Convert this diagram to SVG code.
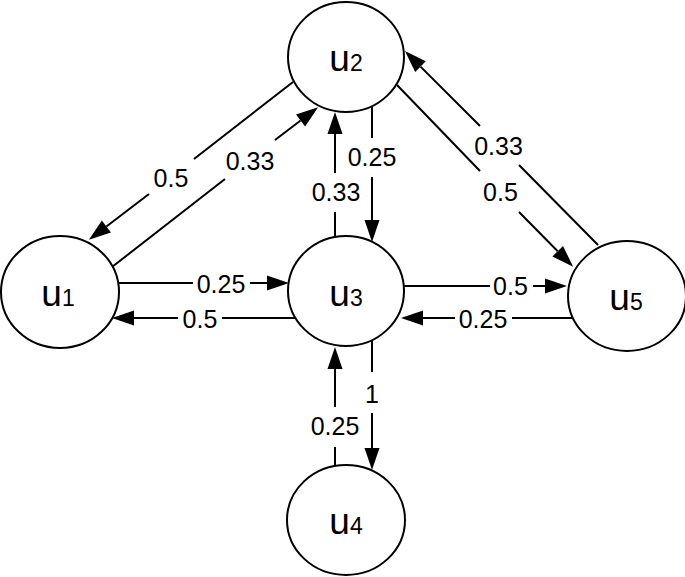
<svg xmlns="http://www.w3.org/2000/svg" width="685" height="577" viewBox="0 0 685 577">
<style>
.node{fill:#fff;stroke:#000;stroke-width:2}
.nl{font-family:"Liberation Sans",Arial,sans-serif;font-size:37px;text-anchor:middle;fill:#000}
.sub{font-size:23px}
.edge{fill:none;stroke:#000;stroke-width:2;marker-end:url(#ah)}
.el{font-family:"Liberation Sans",Arial,sans-serif;font-size:25px;text-anchor:middle;fill:#000}
</style>
<defs>
<marker id="ah" markerUnits="userSpaceOnUse" markerWidth="23" markerHeight="16" refX="0" refY="7.5" orient="auto" overflow="visible">
<path d="M0,0 L22,7.5 L0,15 Z" fill="#000"/>
</marker>
</defs>
<rect width="685" height="577" fill="#fff"/>
<g id="connectors">
<path class="edge" d="M293,82 L194,159 M149,194 L106.4,226.5"/>
<path class="edge" d="M112,267 L225,179 M275,140 L300.6,120.5"/>
<path class="edge" d="M335,239 L335,212 M335,173 L335,134"/>
<path class="edge" d="M372,104 L372,138 M372,177 L372,220"/>
<path class="edge" d="M598,245 L519,165 M480,126 L420.5,66.6"/>
<path class="edge" d="M397,85 L480,171 M519,212 L557.7,251.2"/>
<path class="edge" d="M118,283 L193,283 M250,283 L267,283"/>
<path class="edge" d="M296,318 L222,318 M178,318 L134,318"/>
<path class="edge" d="M404,286 L490,286 M533,286 L545,286"/>
<path class="edge" d="M572,318 L512,318 M455,318 L423,318"/>
<path class="edge" d="M335,466 L335,447 M335,407 L335,369"/>
<path class="edge" d="M372,341 L372,372 M372,413 L372,448"/>
<text class="el" x="171" y="186.5">0.5</text>
<text class="el" x="250" y="169.5">0.33</text>
<text class="el" x="336" y="201">0.33</text>
<text class="el" x="372" y="166">0.25</text>
<text class="el" x="498.5" y="155">0.33</text>
<text class="el" x="500.5" y="201">0.5</text>
<text class="el" x="221" y="293">0.25</text>
<text class="el" x="200" y="327.5">0.5</text>
<text class="el" x="510.5" y="295">0.5</text>
<text class="el" x="483" y="327.5">0.25</text>
<text class="el" x="335" y="435">0.25</text>
<text class="el" x="372" y="403">1</text>
</g>
<g id="u1"><ellipse class="node" cx="60" cy="292" rx="59" ry="56"/><text class="nl" x="58" y="306">u<tspan class="sub">1</tspan></text></g>
<g id="u2"><ellipse class="node" cx="346" cy="57" rx="58" ry="55"/><text class="nl" x="346" y="71">u<tspan class="sub">2</tspan></text></g>
<g id="u3"><ellipse class="node" cx="346" cy="291" rx="58" ry="55"/><text class="nl" x="346" y="306">u<tspan class="sub">3</tspan></text></g>
<g id="u4"><ellipse class="node" cx="346" cy="520" rx="59" ry="55"/><text class="nl" x="346" y="534">u<tspan class="sub">4</tspan></text></g>
<g id="u5"><ellipse class="node" cx="627" cy="296" rx="59" ry="55"/><text class="nl" x="626" y="310">u<tspan class="sub">5</tspan></text></g>
</svg>
